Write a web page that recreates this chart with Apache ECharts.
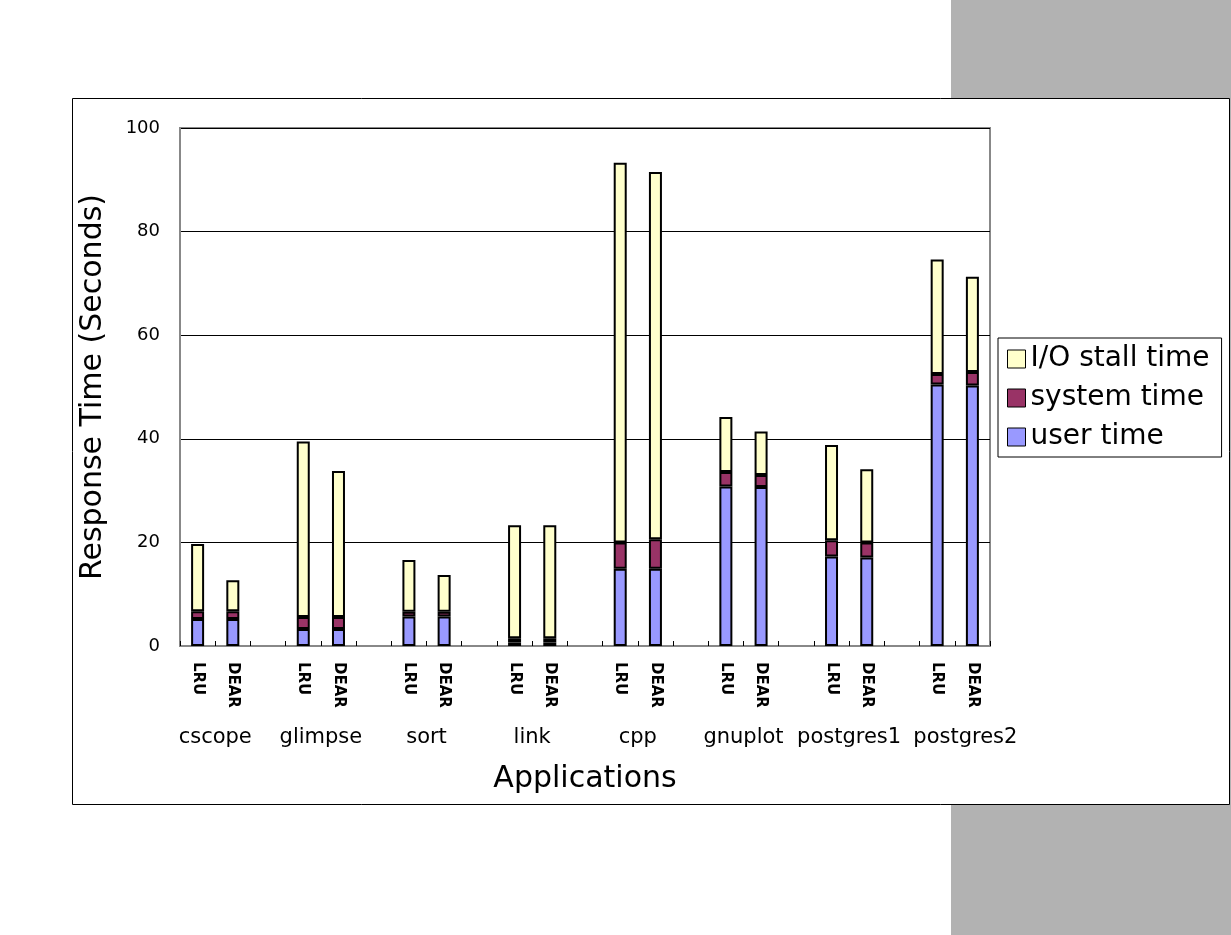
<!DOCTYPE html>
<html>
<head>
<meta charset="utf-8">
<script src="https://cdn.jsdelivr.net/npm/echarts@6/dist/echarts.min.js"></script>
<style>html,body{margin:0;padding:0;background:#fff;}#c{width:1231px;height:935px;}</style>
</head>
<body>
<div id="c"></div>
<script>
var apps = ['cscope','glimpse','sort','link','cpp','gnuplot','postgres1','postgres2'];
var policies = ['LRU','DEAR'];
var yTicks = [0,20,40,60,80,100];
// where each application name sits on the category scale (label anchors)
var groupLabelPos = [0.5, 3.5, 6.5, 9.5, 12.5, 15.5, 18.5, 21.8];
// user time
var userLRU  = [5.2, 3.3, 5.7, 0.7, 14.9, 30.8, 17.3, 50.5];
var userDEAR = [5.2, 3.3, 5.7, 0.7, 14.9, 30.7, 17.1, 50.3];
// system time
var sysLRU   = [1.5, 2.3, 0.9, 0.8, 5.1, 2.8, 3.1, 2.0];
var sysDEAR  = [1.5, 2.3, 0.9, 0.8, 5.7, 2.3, 2.9, 2.6];
// I/O stall time
var ioLRU    = [13.0, 33.9, 10.0, 21.8, 73.3, 10.6, 18.4, 22.1];
var ioDEAR   = [6.0, 28.2, 7.1, 21.8, 70.9, 8.4, 14.1, 18.4];

var FONT = 'DejaVu Sans';
function build(a, b) {
  var out = [];
  for (var i = 0; i < apps.length; i++) {
    out.push(a[i], b[i]);
    if (i < apps.length - 1) out.push('-');
  }
  return out;
}
var cats = [];
for (var i = 0; i < apps.length; i++) {
  cats.push(policies[0], policies[1]);
  if (i < apps.length - 1) cats.push('');
}

var bw = 13;
var common = {type: 'bar', stack: 'total', barWidth: bw, xAxisIndex: 0, yAxisIndex: 0};
function mk(name, data, color) {
  return Object.assign({}, common, {
    name: name, data: data,
    itemStyle: {color: color, borderColor: '#000', borderWidth: 2},
    emphasis: {disabled: true}
  });
}

var chart = echarts.init(document.getElementById('c'), null, {renderer: 'canvas'});
chart.setOption({
  animation: false,
  backgroundColor: '#fff',
  textStyle: {fontFamily: FONT},
  graphic: [
    {type: 'rect', z: -20, shape: {x: 951, y: 0, width: 280, height: 935}, style: {fill: '#b2b2b2'}},
    {type: 'rect', z: -10, shape: {x: 72.5, y: 98.5, width: 1157, height: 706}, style: {fill: '#fff', stroke: '#000', lineWidth: 1}}
  ],
  grid: {left: 180, top: 128, width: 810, height: 518, show: true, borderColor: '#888', borderWidth: 2, backgroundColor: 'transparent'},
  legend: {
    data: ['I/O stall time', 'system time', 'user time'],
    orient: 'vertical', left: 998, top: 338,
    padding: [7, 12, 6, 9], itemGap: 11, itemWidth: 18, itemHeight: 18,
    backgroundColor: '#fff', borderColor: '#000', borderWidth: 1,
    icon: 'rect',
    itemStyle: {borderColor: '#000', borderWidth: 1},
    textStyle: {fontFamily: FONT, fontSize: 28, color: '#000', lineHeight: 28, padding: [0, 0, 0, 0]},
    selectedMode: false
  },
  xAxis: [
    {
      type: 'category', data: cats, gridIndex: 0, position: 'bottom',
      axisLine: {onZero: false, lineStyle: {color: '#888', width: 2}},
      axisTick: {show: true, inside: true, length: 5, lineStyle: {color: '#000', width: 1}},
      axisLabel: {rotate: -90, interval: 0, margin: 16, fontSize: 15, fontWeight: 'bold', color: '#000', fontFamily: FONT},
      splitLine: {show: false}
    },
    {
      type: 'value', gridIndex: 0, position: 'bottom', min: -0.5, max: 22.5,
      axisLine: {show: false, onZero: false}, axisTick: {show: false}, splitLine: {show: false},
      axisLabel: {
        customValues: groupLabelPos, margin: 81, fontSize: 21, color: '#000', fontFamily: FONT,
        hideOverlap: false,
        formatter: function (v) {
          var best = 0, d = Infinity;
          for (var k = 0; k < groupLabelPos.length; k++) {
            var dd = Math.abs(groupLabelPos[k] - v);
            if (dd < d) { d = dd; best = k; }
          }
          return apps[best];
        }
      },
      name: 'Applications', nameLocation: 'middle', nameGap: 118,
      nameTextStyle: {fontSize: 30, color: '#000', fontFamily: FONT}
    }
  ],
  yAxis: {
    type: 'value', min: yTicks[0], max: yTicks[yTicks.length - 1], interval: 20,
    axisLine: {show: true, onZero: false, lineStyle: {color: '#888', width: 2}},
    axisTick: {show: false},
    axisLabel: {fontSize: 18, color: '#000', margin: 20, fontFamily: FONT},
    splitLine: {show: true, lineStyle: {color: '#000', width: 1}},
    name: 'Response Time (Seconds)', nameLocation: 'middle', nameRotate: 90, nameGap: 72,
    nameTextStyle: {fontSize: 30, color: '#000', fontFamily: FONT}
  },
  series: [
    mk('user time', build(userLRU, userDEAR), '#9999ff'),
    mk('system time', build(sysLRU, sysDEAR), '#993366'),
    mk('I/O stall time', build(ioLRU, ioDEAR), '#ffffcc')
  ]
});
</script>
</body>
</html>
